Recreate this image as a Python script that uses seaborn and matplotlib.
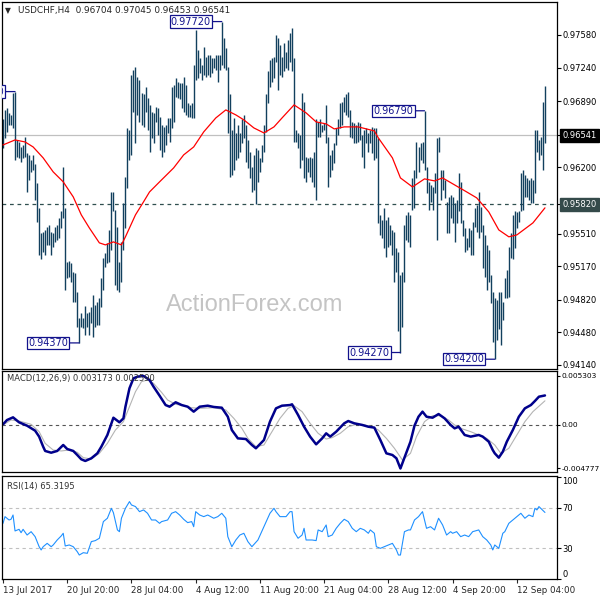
import numpy as np
import matplotlib
matplotlib.use("Agg")
import matplotlib.pyplot as plt
import seaborn as sns

# ---- price bars (H4) ----
high = [
    0.9670, 0.9680, 0.9682, 0.9677, 0.9675, 0.9698, 0.9699, 0.9649, 0.9646, 0.9641,
    0.9643, 0.9652, 0.9635, 0.9633, 0.9628, 0.9633, 0.9623, 0.9604, 0.9578, 0.9552,
    0.9553, 0.9555, 0.9558, 0.9560, 0.9553, 0.9552, 0.9558, 0.9560, 0.9567, 0.9574,
    0.9620, 0.9578, 0.9521, 0.9522, 0.9520, 0.9511, 0.9510, 0.9490, 0.9463, 0.9468,
    0.9463, 0.9475, 0.9468, 0.9469, 0.9474, 0.9487,
    0.9477, 0.9480, 0.9484, 0.9505, 0.9526, 0.9531, 0.9541, 0.9555, 0.9594, 0.9594,
    0.9576, 0.9558, 0.9521, 0.9542, 0.9583, 0.9610, 0.9661, 0.9659, 0.9716, 0.9722,
    0.9725, 0.9714, 0.9711, 0.9698, 0.9696, 0.9704, 0.9692, 0.9685, 0.9678, 0.9677,
    0.9683, 0.9682, 0.9673, 0.9664, 0.9662, 0.9664, 0.9671, 0.9671, 0.9704, 0.9706,
    0.9713, 0.9709, 0.9708, 0.9708, 0.9714, 0.9706,
    0.9687, 0.9685, 0.9687, 0.9727, 0.9763, 0.9742, 0.9734, 0.9727, 0.9745, 0.9735,
    0.9737, 0.9737, 0.9734, 0.9734, 0.9737, 0.9737, 0.9737, 0.9772, 0.9755, 0.9744,
    0.9725, 0.9696, 0.9659, 0.9671, 0.9656, 0.9664, 0.9656, 0.9670, 0.9675, 0.9664,
    0.9649, 0.9636, 0.9620, 0.9633, 0.9640, 0.9638, 0.9630, 0.9643, 0.9664, 0.9696,
    0.9720, 0.9732, 0.9734, 0.9735, 0.9758, 0.9755,
    0.9748, 0.9735, 0.9750, 0.9740, 0.9753, 0.9760, 0.9765, 0.9734, 0.9659, 0.9656,
    0.9654, 0.9698, 0.9688, 0.9631, 0.9630, 0.9631, 0.9630, 0.9636, 0.9670, 0.9667,
    0.9670, 0.9664, 0.9666, 0.9685, 0.9652, 0.9633, 0.9638, 0.9645, 0.9661, 0.9670,
    0.9687, 0.9688, 0.9693, 0.9696, 0.9699, 0.9680, 0.9667, 0.9666, 0.9664, 0.9667,
    0.9666, 0.9654, 0.9659, 0.9661, 0.9656, 0.9659, 0.9662,
    0.9661, 0.9661, 0.9651, 0.9570, 0.9565, 0.9578, 0.9565, 0.9568, 0.9560, 0.9555,
    0.9553, 0.9536, 0.9532, 0.9508, 0.9511, 0.9560, 0.9570, 0.9573, 0.9570, 0.9609,
    0.9617, 0.9646, 0.9641, 0.9645, 0.9646, 0.9679, 0.9620, 0.9605, 0.9602, 0.9600,
    0.9614, 0.9651, 0.9652, 0.9617, 0.9617, 0.9607, 0.9584, 0.9589, 0.9591, 0.9589,
    0.9583, 0.9586, 0.9614, 0.9605, 0.9565, 0.9557, 0.9546,
    0.9557, 0.9555, 0.9563, 0.9578, 0.9581, 0.9594, 0.9579, 0.9560, 0.9550, 0.9539,
    0.9534, 0.9508, 0.9490, 0.9484, 0.9482, 0.9490, 0.9490, 0.9480, 0.9505, 0.9513,
    0.9537, 0.9552, 0.9570, 0.9574, 0.9573, 0.9574, 0.9614, 0.9617, 0.9612, 0.9609,
    0.9607, 0.9609, 0.9607, 0.9659, 0.9659, 0.9649, 0.9652, 0.9688, 0.97045,
]
low = [
    0.9640, 0.9651, 0.9657, 0.9664, 0.9664, 0.9661, 0.9628, 0.9631, 0.9630, 0.9626,
    0.9630, 0.9631, 0.9594, 0.9607, 0.9615, 0.9617, 0.9586, 0.9563, 0.9529, 0.9524,
    0.9532, 0.9529, 0.9539, 0.9539, 0.9529, 0.9537, 0.9542, 0.9544, 0.9546, 0.9557,
    0.9567, 0.9492, 0.9505, 0.9506, 0.9501, 0.9480, 0.9480, 0.9454, 0.9437, 0.9454,
    0.9453, 0.9445, 0.9454, 0.9445, 0.9458, 0.9443,
    0.9454, 0.9456, 0.9456, 0.9474, 0.9492, 0.9516, 0.9520, 0.9521, 0.9534, 0.9574,
    0.9497, 0.9492, 0.9490, 0.9501, 0.9534, 0.9557, 0.9599, 0.9628, 0.9633, 0.9678,
    0.9645, 0.9675, 0.9667, 0.9664, 0.9662, 0.9678, 0.9659, 0.9636, 0.9651, 0.9645,
    0.9667, 0.9654, 0.9638, 0.9631, 0.9636, 0.9643, 0.9656, 0.9646, 0.9661, 0.9667,
    0.9693, 0.9692, 0.9691, 0.9682, 0.9678, 0.9675,
    0.9673, 0.9673, 0.9671, 0.9671, 0.9711, 0.9713, 0.9718, 0.9711, 0.9716, 0.9714,
    0.9716, 0.9714, 0.9718, 0.9724, 0.9722, 0.9709, 0.9722, 0.9727, 0.9724, 0.9722,
    0.9656, 0.9610, 0.9612, 0.9617, 0.9628, 0.9630, 0.9636, 0.9645, 0.9651, 0.9626,
    0.9619, 0.9609, 0.9594, 0.9596, 0.9582, 0.9605, 0.9615, 0.9626, 0.9636, 0.9657,
    0.9687, 0.9704, 0.9709, 0.9713, 0.9730, 0.9701,
    0.9716, 0.9714, 0.9720, 0.9724, 0.9722, 0.9730, 0.9720, 0.9646, 0.9646, 0.9640,
    0.9619, 0.9628, 0.9609, 0.9605, 0.9615, 0.9610, 0.9605, 0.9600, 0.9586, 0.9652,
    0.9652, 0.9657, 0.9659, 0.9645, 0.9600, 0.9610, 0.9617, 0.9625, 0.9643, 0.9654,
    0.9661, 0.9664, 0.9678, 0.9675, 0.9673, 0.9652, 0.9651, 0.9645, 0.9645, 0.9646,
    0.9649, 0.9631, 0.9619, 0.9645, 0.9636, 0.9645, 0.9635,
    0.9628, 0.9630, 0.9562, 0.9550, 0.9546, 0.9536, 0.9527, 0.9537, 0.9539, 0.9529,
    0.9500, 0.9511, 0.9449, 0.9427, 0.9454, 0.9501, 0.9544, 0.9542, 0.9537, 0.9576,
    0.9578, 0.9609, 0.9615, 0.9628, 0.9625, 0.9617, 0.9593, 0.9576, 0.9584, 0.9576,
    0.9593, 0.9544, 0.9636, 0.9586, 0.9596, 0.9588, 0.9552, 0.9552, 0.9567, 0.9562,
    0.9542, 0.9562, 0.9574, 0.9562, 0.9548, 0.9532, 0.9534,
    0.9537, 0.9529, 0.9529, 0.9558, 0.9553, 0.9546, 0.9553, 0.9515, 0.9506, 0.9492,
    0.9501, 0.9479, 0.9438, 0.9420, 0.9440, 0.9451, 0.9435, 0.9461, 0.9484, 0.9484,
    0.9485, 0.9526, 0.9524, 0.9536, 0.9557, 0.9563, 0.9574, 0.9576, 0.9589, 0.9589,
    0.9586, 0.9583, 0.9583, 0.9593, 0.9636, 0.9628, 0.9633, 0.9617, 0.96453,
]

# moving average (red), sampled along the bars
ma_bar = [0, 6, 11, 15, 20, 25, 30, 35, 39, 43, 48, 51, 55, 59, 61, 66, 70, 73, 78, 85,
          90, 95, 100, 106, 111, 116, 120, 125, 130, 135, 139, 145, 151, 156, 161, 165,
          170, 177, 185, 187, 194, 198, 204, 210, 215, 219, 225, 231, 236, 242, 247,
          252, 256, 264, 270]
ma_val = [0.96434, 0.96486, 0.96465, 0.96413, 0.96299, 0.96153, 0.96049, 0.95892, 0.95705,
          0.95569, 0.95413, 0.95392, 0.95423, 0.95392, 0.95476, 0.95705, 0.95840, 0.95944,
          0.96049, 0.96194, 0.96330, 0.96413, 0.96570, 0.96715, 0.96799, 0.96747, 0.96695,
          0.96611, 0.96559, 0.96622, 0.96715, 0.96851, 0.96768, 0.96674, 0.96653, 0.96601,
          0.96622, 0.96622, 0.96580, 0.96507, 0.96299, 0.96090, 0.95996, 0.96080, 0.96059,
          0.96090, 0.96017, 0.95944, 0.95882, 0.95736, 0.95548, 0.95476, 0.95496, 0.95621,
          0.95778]

# MACD(12,26,9)
macd_bar = [0, 2, 5, 8, 12, 16, 18, 20, 21, 24, 27, 30, 32, 35, 37, 39, 41, 44, 47, 49,
            52, 55, 58, 60, 61, 63, 65, 67, 70, 73, 75, 78, 81, 83, 86, 89, 92, 95, 98,
            102, 105, 109, 112, 114, 117, 121, 124, 126, 130, 133, 136, 139, 143, 144,
            147, 150, 153, 156, 159, 161, 163, 166, 170, 172, 175, 179, 182, 185, 188,
            191, 194, 196, 198, 200, 203, 205, 207, 209, 211, 214, 217, 220, 223, 225,
            227, 230, 233, 237, 239, 242, 244, 245, 247, 249, 251, 254, 257, 260, 263,
            265, 267, 270]
macd_val = [0.00003, 0.00050, 0.00079, 0.00025, -0.00012, -0.00066, -0.00131, -0.00240,
            -0.00287, -0.00306, -0.00287, -0.00222, -0.00266, -0.00287, -0.00331, -0.00378,
            -0.00396, -0.00367, -0.00313, -0.00240, -0.00113, 0.00075, 0.00025, 0.00068,
            0.00195, 0.00395, 0.00504, 0.00522, 0.00530, 0.00486, 0.00413, 0.00315, 0.00213,
            0.00195, 0.00243, 0.00213, 0.00195, 0.00141, 0.00195, 0.00206, 0.00192, 0.00184,
            0.00086, -0.00059, -0.00150, -0.00157, -0.00222, -0.00258, -0.00168, 0.00032,
            0.00177, 0.00206, 0.00213, 0.00221, 0.00105, -0.00023, -0.00131, -0.00215,
            -0.00150, -0.00095, -0.00131, -0.00077, 0.00014, 0.00039, 0.00014, -0.00004,
            -0.00023, -0.00033, -0.00168, -0.00313, -0.00331, -0.00367, -0.00478, -0.00360,
            -0.00186, -0.00012, 0.00086, 0.00141, 0.00086, 0.00075, 0.00115, 0.00068,
            -0.00004, -0.00041, -0.00023, -0.00113, -0.00131, -0.00113, -0.00131, -0.00186,
            -0.00277, -0.00313, -0.00360, -0.00295, -0.00186, -0.00059, 0.00086, 0.00177,
            0.00213, 0.00257, 0.00304, 0.003173]
signal_bar = [0, 4, 8, 14, 18, 21, 25, 29, 33, 37, 40, 44, 48, 52, 56, 60, 63, 66, 69, 72,
              75, 79, 82, 86, 90, 94, 98, 105, 111, 115, 119, 122, 126, 130, 134, 138, 142,
              145, 149, 153, 157, 161, 164, 168, 172, 176, 180, 184, 187, 191, 195, 199,
              203, 206, 210, 214, 218, 222, 225, 229, 233, 237, 241, 245, 248, 252, 256,
              260, 264, 270]
signal_val = [-0.00004, 0.00050, 0.00039, 0.00003, -0.00077, -0.00204, -0.00277, -0.00287,
              -0.00277, -0.00302, -0.00360, -0.00375, -0.00313, -0.00204, -0.00059, 0.00032,
              0.00195, 0.00359, 0.00468, 0.00486, 0.00449, 0.00351, 0.00268, 0.00221,
              0.00206, 0.00184, 0.00177, 0.00184, 0.00159, 0.00068, -0.00041, -0.00150,
              -0.00240, -0.00222, -0.00077, 0.00068, 0.00177, 0.00206, 0.00141, 0.00014,
              -0.00095, -0.00157, -0.00142, -0.00095, -0.00023, 0.00003, -0.00004, -0.00023,
              -0.00059, -0.00150, -0.00258, -0.00386, -0.00313, -0.00131, 0.00032, 0.00097,
              0.00097, 0.00050, -0.00004, -0.00048, -0.00077, -0.00113, -0.00150, -0.00222,
              -0.00313, -0.00258, -0.00113, 0.00032, 0.00141, 0.00259]

# RSI(14)
rsi_bar = [0, 1, 2, 3, 4, 5, 6, 8, 9, 10, 12, 14, 16, 18, 19, 20, 22, 24, 25, 27, 29, 30,
           31, 33, 35, 37, 38, 40, 42, 44, 46, 48, 50, 52, 54, 55, 57, 58, 59, 61, 63, 64,
           66, 68, 70, 72, 74, 76, 78, 79, 82, 84, 86, 88, 90, 92, 94, 95, 96, 98, 100,
           102, 105, 107, 109, 111, 112, 114, 116, 118, 120, 122, 124, 127, 130, 133, 135,
           136, 138, 141, 143, 144, 145, 147, 149, 150, 151, 154, 156, 157, 159, 161, 162,
           164, 166, 168, 170, 172, 174, 176, 178, 180, 182, 183, 185, 186, 188, 190, 192,
           194, 196, 197, 198, 200, 202, 203, 205, 207, 209, 211, 213, 215, 217, 219, 221,
           223, 224, 226, 228, 230, 232, 234, 237, 239, 241, 243, 244, 245, 247, 249, 250,
           252, 254, 256, 258, 260, 262, 264, 265, 266, 267, 270]
rsi_val = [54.6, 61.2, 59.6, 57.9, 58.6, 62.8, 47.1, 48.7, 45.4, 48.7, 43.1, 46.4, 41.5,
           31.6, 28.4, 31.6, 34.9, 31.6, 33.3, 38.2, 42.2, 44.8, 32.3, 33.3, 31.6, 26.7,
           23.4, 25.7, 25.1, 36.6, 37.6, 39.9, 56.3, 59.6, 69.4, 65.1, 48.1, 46.4, 59.6,
           69.4, 76.0, 72.7, 71.1, 66.1, 67.8, 64.5, 57.9, 57.9, 54.6, 56.3, 57.9, 64.5,
           66.1, 62.8, 58.6, 55.3, 56.3, 51.3, 66.1, 62.8, 61.2, 62.8, 59.6, 61.2, 64.5,
           59.6, 41.5, 31.6, 38.2, 43.1, 44.8, 36.6, 31.6, 38.2, 51.3, 64.5, 69.4, 66.1,
           61.2, 61.2, 66.1, 66.1, 46.4, 39.9, 43.1, 49.7, 38.2, 38.2, 37.6, 48.1, 46.4,
           53.0, 41.5, 43.1, 49.7, 54.6, 58.6, 56.3, 49.7, 46.4, 49.7, 48.1, 44.8, 48.1,
           44.8, 31.6, 30.0, 31.6, 33.3, 34.9, 28.4, 23.4, 23.4, 46.4, 48.1, 48.1, 57.9,
           61.2, 66.1, 49.7, 51.3, 48.1, 59.6, 53.0, 43.1, 46.4, 44.8, 46.4, 41.5, 43.1,
           41.5, 46.4, 48.1, 41.5, 38.2, 33.3, 28.4, 33.3, 30.0, 44.8, 46.4, 54.6, 57.9,
           61.2, 64.5, 59.6, 62.8, 61.2, 69.4, 67.8, 71.1, 65.32]

price_ticks = [0.97580, 0.97240, 0.96890, 0.96541, 0.96200, 0.95820,
               0.95510, 0.95170, 0.94820, 0.94480, 0.94140]
date_bars = [0, 32, 64, 96, 128, 160, 192, 224, 256]
date_labels = ["13 Jul 2017", "20 Jul 20:00", "28 Jul 04:00", "4 Aug 12:00",
               "11 Aug 20:00", "21 Aug 04:00", "28 Aug 12:00", "4 Sep 20:00",
               "12 Sep 04:00"]
# swing labels: (bar, price, text)
swings = [(6, 0.9699, "0.96990"), (38, 0.9437, "0.94370"), (109, 0.9772, "0.97720"),
          (198, 0.9427, "0.94270"), (210, 0.9679, "0.96790"), (245, 0.9420, "0.94200")]

last_price = 0.96541
level = 0.95820

BAR = "#12405e"
NAVY = "#12128c"
FS = 6.0

sns.set_style("white")
plt.rcParams["font.family"] = ["DejaVu Sans"]
plt.rcParams["axes.edgecolor"] = "black"

fig = plt.figure(figsize=(6, 6), dpi=100)
W = 555 / 600
ax = fig.add_axes([2 / 600, 1 - 369 / 600, W, 367 / 600])
ax_macd = fig.add_axes([2 / 600, 1 - 472 / 600, W, 101 / 600])
ax_rsi = fig.add_axes([2 / 600, 1 - 579 / 600, W, 103 / 600])

# main panel
bars = np.arange(len(high))
ax.axhline(last_price, color="#c0c0c0", lw=0.9, zorder=1)
ax.axhline(level, color="#2f4f4f", lw=0.9, ls=(0, (3, 3)), zorder=1)
ax.vlines(bars, low, high, color=BAR, lw=1.0, zorder=2)
sns.lineplot(x=ma_bar, y=ma_val, ax=ax, color="#ff0000", linewidth=0.9, zorder=3)

ax.text(0.456, 0.175, "ActionForex.com", transform=ax.transAxes, ha="center", va="center",
        fontsize=17, color="#c4c4c4", family="Liberation Sans", zorder=0)
ax.text(0.006, 0.978, "\u25bc", transform=ax.transAxes, fontsize=5.5, va="center")
ax.text(0.028, 0.978, "USDCHF,H4  0.96704 0.97045 0.96453 0.96541",
        transform=ax.transAxes, fontsize=6.4, va="center")

for b, p, t in swings:
    ann = ax.annotate(t, xy=(b, p), xytext=(-11, 0), textcoords="offset pixels",
                      ha="right", va="center", fontsize=7, color=NAVY,
                      bbox=dict(boxstyle="square,pad=0.12", fc="white", ec=NAVY, lw=0.9),
                      arrowprops=dict(arrowstyle="-", color=NAVY, lw=0.9,
                                      shrinkA=0, shrinkB=0), zorder=5)
    ann.set_clip_on(True)
    ann.set_clip_box(ax.bbox)

ax.set_xlim(-0.5, 276)
ax.set_ylim(0.94098, 0.97924)
ax.set_xticks([])
ax.yaxis.tick_right()
ax.set_yticks(price_ticks, [f"{t:.5f}" for t in price_ticks])
ax.set_xlabel("")
ax.set_ylabel("")

# MACD panel
ax_macd.axhline(0, color="#555555", lw=0.8, ls=(0, (3, 3)))
sns.lineplot(x=signal_bar, y=signal_val, ax=ax_macd, color="#b4b4b4", linewidth=0.8)
sns.lineplot(x=macd_bar, y=macd_val, ax=ax_macd, color="#00008b", linewidth=1.8)
ax_macd.text(0.009, 0.93, "MACD(12,26,9) 0.003173 0.002590", transform=ax_macd.transAxes,
             fontsize=FS, va="center", color="#333333")
ax_macd.set_xlim(-0.5, 276)
ax_macd.set_ylim(-0.005162, 0.005837)
ax_macd.set_xticks([])
ax_macd.yaxis.tick_right()
ax_macd.set_yticks([0.005303, 0.0, -0.004777], ["0.005303", "0.00", "-0.004777"])
ax_macd.set_xlabel("")
ax_macd.set_ylabel("")

# RSI panel
for lv in (70, 30):
    ax_rsi.axhline(lv, color="#c0c0c0", lw=0.8, ls=(0, (3, 3)))
sns.lineplot(x=rsi_bar, y=rsi_val, ax=ax_rsi, color="#1e90ff", linewidth=0.8)
ax_rsi.text(0.009, 0.9, "RSI(14) 65.3195", transform=ax_rsi.transAxes,
            fontsize=FS, va="center", color="#333333")
ax_rsi.set_xlim(-0.5, 276)
ax_rsi.set_ylim(-0.2, 101.2)
ax_rsi.yaxis.tick_right()
ax_rsi.set_yticks([100, 70, 30, 0], ["100", "70", "30", "0"])
ax_rsi.set_xticks(date_bars, date_labels, ha="left")
ax_rsi.set_xlabel("")
ax_rsi.set_ylabel("")

for a in (ax, ax_macd, ax_rsi):
    a.set_facecolor("white")
    for s in a.spines.values():
        s.set_color("black")
        s.set_linewidth(0.9)
    a.tick_params(axis="y", direction="out", length=3, width=0.8, pad=1,
                  labelsize=FS, colors="black", right=True, left=False)
# the long MACD values need a touch less room to stay on the canvas
ax_macd.tick_params(axis="y", length=2.5, pad=0.5, labelsize=5.4)
ax_rsi.tick_params(axis="x", direction="out", length=3, width=0.8, pad=2,
                   labelsize=6.3, bottom=True)

# edge labels of the RSI scale sit inside the panel
rl = ax_rsi.get_yticklabels()
rl[0].set_va("top")
rl[-1].set_va("bottom")

# highlighted price labels (after tick_params so colours stick)
for lbl in ax.get_yticklabels():
    if lbl.get_text() == f"{last_price:.5f}":
        lbl.set_color("white")
        lbl.set_bbox(dict(boxstyle="square,pad=0.25", fc="black", ec="black"))
    elif lbl.get_text() == f"{level:.5f}":
        lbl.set_color("white")
        lbl.set_bbox(dict(boxstyle="square,pad=0.25", fc="#344a4a", ec="#344a4a"))

fig.savefig("out.png", dpi=100, facecolor="white")
